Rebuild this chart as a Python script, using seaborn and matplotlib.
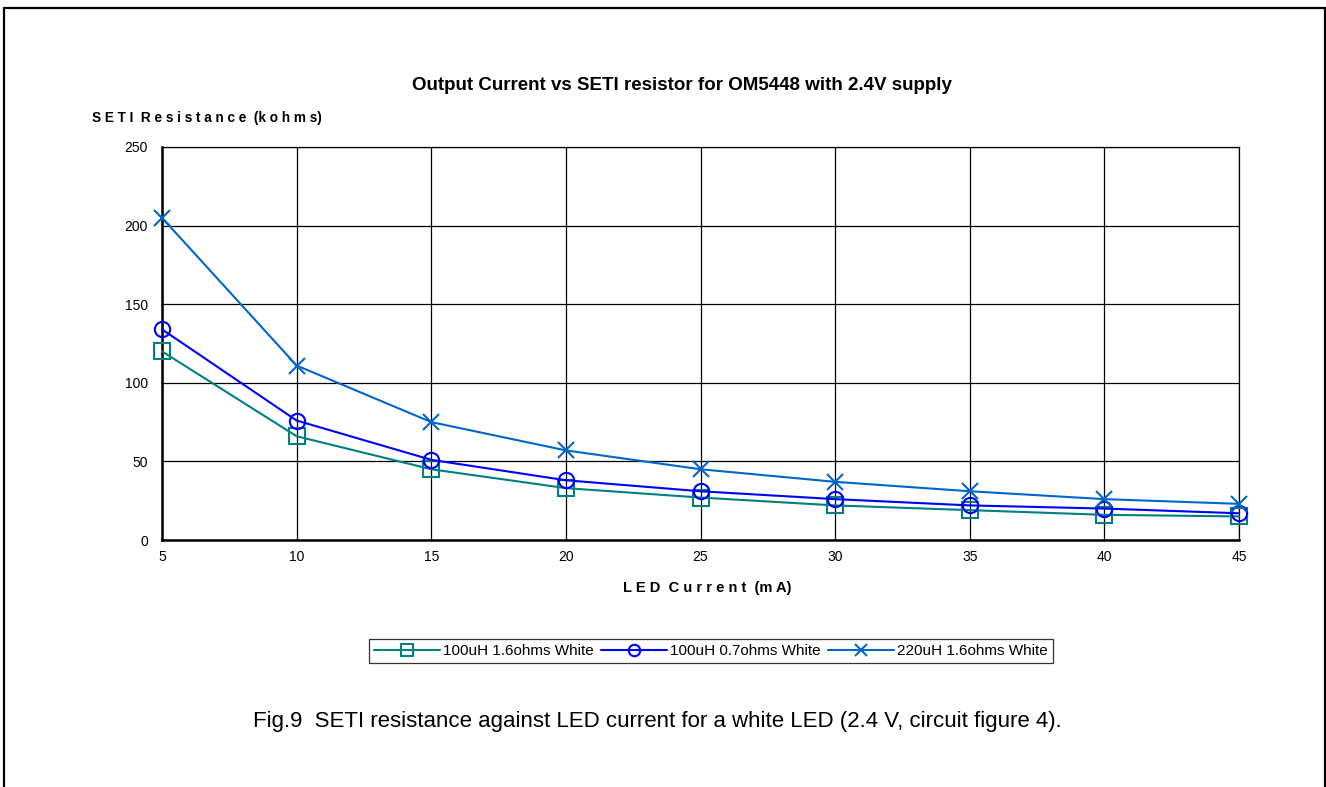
import matplotlib
matplotlib.use("Agg")
import matplotlib.pyplot as plt
import seaborn as sns
import pandas as pd
from matplotlib.lines import Line2D

led_current = [5, 10, 15, 20, 25, 30, 35, 40, 45]
r_100uH_16 = [120, 66, 45, 33, 27, 22, 19, 16, 15]
r_100uH_07 = [134, 76, 51, 38, 31, 26, 22, 20, 17]
r_220uH_16 = [205, 111, 75, 57, 45, 37, 31, 26, 23]
series_names = ["100uH 1.6ohms White", "100uH 0.7ohms White", "220uH 1.6ohms White"]
y_ticks = [0, 50, 100, 150, 200, 250]

sns.set_theme(style="white")
plt.rcParams['font.family'] = ['Liberation Sans', 'DejaVu Sans']
plt.rcParams['text.color'] = 'black'

series_values = [r_100uH_16, r_100uH_07, r_220uH_16]
colors = ["#008080", "#0000FF", "#0066CC"]
marker_list = ["s", "o", "x"]

W, H = 1326, 787
fig = plt.figure(figsize=(W/100, H/100), dpi=100)
ax = fig.add_axes([162/W, 1-540/H, (1239-162)/W, (540-147)/H])

for name, vals, col, mk in zip(series_names, series_values, colors, marker_list):
    d = pd.DataFrame({"x": led_current, "y": vals})
    sns.lineplot(data=d, x="x", y="y", ax=ax, color=col, linewidth=1.5, marker=mk,
                 markersize=11, markerfacecolor="none", markeredgecolor=col,
                 markeredgewidth=1.5, label=name, legend=False, clip_on=False, zorder=3)

ax.set_xlim(5, 45)
ax.set_ylim(0, 250)
ax.set_xticks(led_current)
ax.set_yticks(y_ticks)
ax.grid(True, color="black", linewidth=0.9)
ax.set_axisbelow(True)
for s in ax.spines.values():
    s.set_color("black")
    s.set_linewidth(0.9)
ax.spines["left"].set_linewidth(1.8)
ax.spines["bottom"].set_linewidth(1.8)
ax.tick_params(axis="x", direction="out", length=4, width=1, colors="black", labelsize=10, pad=3)
ax.tick_params(axis="y", direction="out", length=2, width=1, colors="black", labelsize=10, pad=8)
ax.set_xlabel("")
ax.set_ylabel("")

fig.text(682/W, 1-85/H, "Output Current vs SETI resistor for OM5448 with 2.4V supply",
         ha="center", va="center", fontsize=13.5, fontweight="bold", color="black")
fig.text(92/W, 1-118/H, "S E T I  R e s i s t a n c e  (k o h m s)",
         ha="left", va="center", fontsize=9.8, fontweight="bold", color="black")
fig.text(707/W, 1-588/H, "L E D  C u r r e n t  (m A)",
         ha="center", va="center", fontsize=10.5, fontweight="bold", color="black")
fig.text(657/W, 1-722/H, "Fig.9  SETI resistance against LED current for a white LED (2.4 V, circuit figure 4).",
         ha="center", va="center", fontsize=16, color="black")

handles = ax.lines[:3]
leg = fig.legend(handles, series_names, loc="center", bbox_to_anchor=(711/W, 1-651/H),
                 ncol=3, frameon=True, fontsize=11, handlelength=4.3, columnspacing=0.5,
                 handletextpad=0.2, borderpad=0.35, borderaxespad=0, fancybox=False,
                 markerscale=0.75)
leg.get_frame().set_edgecolor("black")
leg.get_frame().set_linewidth(0.9)
for t in leg.get_texts():
    t.set_color("black")

for xs, ys in [((3.5/W, 3.5/W), (0, 1-7.5/H)),
               ((3.5/W, 1324.5/W), (1-7.5/H, 1-7.5/H)),
               ((1324.5/W, 1324.5/W), (1-7.5/H, 0))]:
    fig.add_artist(Line2D(xs, ys, transform=fig.transFigure, color="black", linewidth=1.6))

fig.savefig("out.png", dpi=100)
